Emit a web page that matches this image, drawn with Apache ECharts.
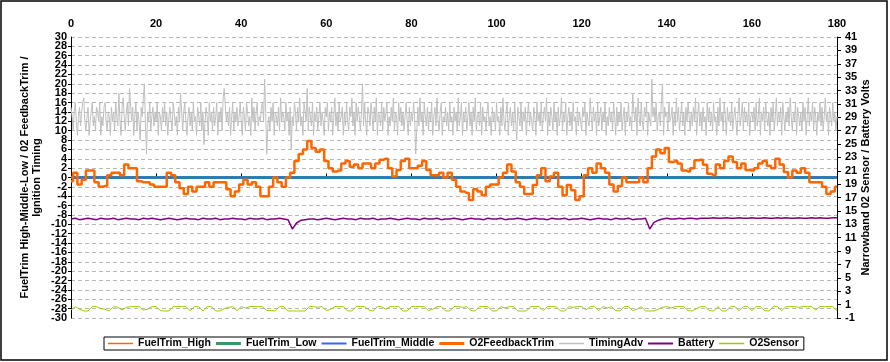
<!DOCTYPE html>
<html>
<head>
<meta charset="utf-8">
<script src="https://cdn.jsdelivr.net/npm/echarts@6/dist/echarts.min.js"></script>
<style>
html,body{margin:0;padding:0;background:#fff;}
#chart{width:890px;height:362px;}
</style>
</head>
<body>
<div id="chart"></div>
<script>
// ---- tick labels / axes ----
const xTicks = [0, 20, 40, 60, 80, 100, 120, 140, 160, 180];
const leftRange = [-30, 30];
const rightRange = [-1, 41];

// ---- series data ----
// FuelTrim High / Low / Middle: flat at 0 over the whole run (x 0 and 180)
const fuelTrimX = [0, 180];
const fuelTrimHigh = [0, 0];
const fuelTrimLow = [0, 0];
const fuelTrimMiddle = [0, 0];

// O2FeedbackTrim, one sample per time unit (x = 0..180)
const o2FeedbackTrim = [
-0.8,1,-1.5,-0.5,1.5,1.5,-1,-2,-1.8,0.5,
1,1,0.5,2.8,2,2,-0.8,-1,-1,-1.5,
-2,-2,-2,1,0.5,-1,-2.3,-3.5,-2,-3,
-2,-2,-1,-2,-1,-1,-1,-2.5,-4,-3,
-1.5,-0.5,-1.5,-1,-2,-4,-4,-2,0,-1,
-2,0,1,3.5,5,6,7.8,6.3,5.5,6,
3.5,2,1.3,1.5,3,3.5,2.3,2.8,2,3,
3,2,3,3.8,4,2,0.2,1.6,3.5,4,
2,2,2.5,3.5,1.6,0.5,0.5,1,0,1,
-0.5,-2,-3,-3.3,-4.8,-2.5,-3,-3.8,-2,-1.5,
-1.5,0,1,2.8,1.3,-1,-2,-3.5,-3.5,-1.6,
0.5,2,-0.8,0.2,1,-2,-3.8,-1.6,-2.7,-4.8,
-4,0.5,2,1,3,2,1,-1.5,-3,-1.8,
0,-1,-1,-1,0,-1,2,4.5,6,5.2,
6.3,3.3,3.5,3,1.5,1.3,2,3.7,3.8,2.7,
0.8,0.5,2.8,2,3.5,4.5,3.3,2,3,1.6,
1.5,2,3,3.5,2.5,2,4,2.8,1.2,0,
1.5,1,2,1,-1,-1,-1,-2,-3.5,-3,-2
];

// TimingAdv, four samples per time unit (x = 0, 0.25, ..., 180)
const timingAdv = [
15,13,10,14,16,12,9,13,15,11, 14,16,17,12,10,13,15,9,12,14, 16,11,13,10,15,14,12,16,9,13, 11,15,16,12,10,14,13,9,15,12,
14,10,16,13,11,18,12,9,15,17, 13,10,14,16,11,19,19,12,15,9, 13,16,10,14,12,8,15,13,17,20, 11,5,14,12,16,10,13,15,11,14,
12,16,9,14,13,10,15,12,16,11, 14,9,13,15,12,10,16,14,11,13, 9,15,12,18,18,10,14,16,12,9, 13,15,11,14,10,16,12,13,9,15,
13,11,16,10,14,7,12,15,13,9, 16,12,14,10,15,11,13,16,9,14, 12,15,10,17,19,19,12,14,11,15, 9,13,16,10,14,12,15,11,13,16,
12,9,15,13,10,16,14,11,13,9, 17,12,15,10,14,16,11,13,12,15, 16,12,21,14,5,11,13,10,15,12, 16,9,14,13,11,15,10,17,12,14,
13,10,16,12,14,9,15,6,13,11, 16,14,10,15,12,17,11,13,9,16, 14,12,19,10,15,13,11,16,9,14, 12,15,10,13,16,11,14,12,9,15,
13,16,10,14,12,15,9,13,17,11, 14,10,16,12,13,15,9,14,11,16, 12,10,15,13,17,11,14,9,16,12, 15,13,10,14,20,11,16,12,9,15,
14,11,16,13,10,15,12,17,9,14, 13,11,16,10,15,12,14,16,9,13, 11,15,12,17,10,14,13,9,16,12, 15,11,14,10,13,16,12,9,15,11,
14,12,16,13,5,10,15,11,17,12, 14,9,16,13,11,15,10,14,12,16, 9,13,15,11,17,12,10,14,16,9, 13,12,15,11,14,10,16,12,13,9,
15,12,14,10,17,11,13,16,9,14, 12,15,10,13,16,11,14,9,15,12, 17,10,13,14,11,16,9,15,12,13, 10,14,16,11,13,9,15,12,14,10,
16,12,13,9,15,11,17,12,10,14, 16,9,13,15,11,14,10,16,12,8, 15,13,11,16,10,14,12,15,9,13, 16,11,14,12,10,15,13,9,16,12,
14,11,16,10,13,15,12,17,9,14, 11,15,13,10,16,12,14,9,15,11, 13,17,10,14,12,16,9,13,15,11, 14,10,16,12,13,9,15,11,14,12,
10,15,13,16,9,14,12,11,17,13, 10,15,12,14,9,16,11,13,15,10, 14,12,16,9,13,11,15,12,14,10, 16,13,9,15,11,14,12,16,10,13,
15,9,14,12,16,11,13,10,18,14, 12,15,9,17,13,11,16,12,10,15, 13,16,9,14,12,11,21,13,15,12, 16,10,13,14,11,17,20,9,15,13,
14,10,16,12,13,15,9,14,11,17, 12,15,10,13,16,11,14,9,15,12, 16,13,10,14,11,15,12,17,9,13, 16,11,14,10,15,12,13,9,16,12,
15,11,14,10,16,12,13,9,15,11, 17,12,14,10,16,13,9,15,12,14, 11,16,10,13,15,12,9,14,17,11, 13,16,10,15,12,14,11,16,9,13,
14,12,15,10,16,11,13,17,9,14, 12,15,10,16,13,11,14,9,15,12, 16,10,13,17,11,14,12,15,9,16, 13,10,14,12,15,11,17,13,10,14,
12,16,9,15,13,11,14,10,16,12, 15,9,13,17,11,14,12,16,10,15, 13,9,14,12,16,11,15,10,13,17, 12,14,9,15,13,11,16,12,14,10, 13
];

// Battery volts, one sample per time unit (x = 0..180)
const battery = [
13.8,13.9,13.7,13.8,13.9,13.8,13.7,13.9,13.8,13.8,
13.9,13.7,13.8,13.9,13.8,13.8,13.7,13.9,13.8,13.9,
13.8,13.7,13.8,13.9,13.8,13.7,13.8,13.9,13.8,13.8,
13.7,13.9,13.8,13.8,13.9,13.7,13.8,13.8,13.9,13.8,
13.8,13.7,13.9,13.8,13.8,13.9,13.7,13.8,13.8,13.9,
13.8,13.7,12.3,13.2,13.6,13.7,13.8,13.8,13.7,13.8,
13.9,13.8,13.7,13.8,13.9,13.8,13.8,13.7,13.9,13.8,
13.8,13.9,13.7,13.8,13.8,13.9,13.8,13.7,13.8,13.9,
13.8,13.8,13.7,13.9,13.8,13.8,13.9,13.7,13.8,13.8,
13.9,13.8,13.7,13.8,13.9,13.8,13.8,13.7,13.9,13.8,
13.8,13.9,13.7,13.8,13.8,13.9,13.8,13.7,13.8,13.9,
13.8,13.8,13.7,13.9,13.8,13.8,13.9,13.7,13.8,13.8,
13.9,13.8,13.7,13.8,13.9,13.8,13.8,13.7,13.9,13.8,
13.8,13.9,13.7,13.8,13.8,13.9,12.3,13.3,13.6,13.8,
13.9,13.8,13.8,13.9,13.8,13.9,13.9,13.8,13.9,13.9,
13.9,14.0,13.9,13.9,14.0,13.9,13.9,14.0,13.9,13.9,
14.0,13.9,13.9,14.0,13.9,13.9,14.0,13.9,14.0,13.9,
13.9,14.0,13.9,13.9,14.0,13.9,14.0,13.9,13.9,14.0,14.0
];

// Narrowband O2 sensor volts, one sample per time unit (x = 0..180)
const o2Sensor = [
0.2,0.7,0.3,0.05,0.05,0.7,0.7,0.4,0.3,0.05,
0.7,0.6,0.2,0.6,0.7,0.7,0.7,0.2,0.3,0.7,
0.7,0.1,0.05,0.05,0.7,0.7,0.7,0.7,0.1,0.7,
0.7,0.05,0.7,0.7,0.05,0.05,0.4,0.6,0.7,0.1,
0.7,0.5,0.7,0.7,0.7,0.7,0.1,0.1,0.05,0.7,
0.7,0.05,0.05,0.05,0.05,0.05,0.7,0.7,0.6,0.7,
0.1,0.3,0.7,0.7,0.7,0.05,0.05,0.7,0.7,0.7,
0.2,0.05,0.7,0.7,0.3,0.7,0.7,0.7,0.05,0.05,
0.7,0.7,0.7,0.7,0.1,0.3,0.7,0.7,0.05,0.05,
0.7,0.7,0.6,0.7,0.1,0.05,0.7,0.7,0.7,0.05,
0.05,0.7,0.5,0.7,0.7,0.05,0.05,0.05,0.7,0.7,
0.7,0.1,0.7,0.7,0.7,0.05,0.05,0.7,0.6,0.7,
0.7,0.2,0.7,0.7,0.1,0.7,0.5,0.7,0.1,0.05,
0.7,0.7,0.1,0.3,0.7,0.05,0.05,0.05,0.3,0.6,
0.7,0.5,0.7,0.7,0.7,0.1,0.05,0.4,0.7,0.7,
0.1,0.05,0.7,0.05,0.05,0.7,0.7,0.1,0.7,0.7,
0.1,0.7,0.7,0.1,0.05,0.7,0.7,0.1,0.7,0.7,
0.7,0.6,0.7,0.7,0.7,0.2,0.7,0.7,0.7,0.7,0.1
];

// ---- build ----
const pairs = (xs, ys) => ys.map((v, i) => [xs[i], v]);
const perUnit = (ys, step) => ys.map((v, i) => [i * step, v]);
const lineIcon = (h) => 'path://M0,0H25V' + h + 'H0Z';

const FONT = 'Liberation Sans';
const lblStyle = { color: '#000', fontWeight: 'bold', fontSize: 11, fontFamily: FONT };

const chart = echarts.init(document.getElementById('chart'), null, { renderer: 'canvas' });
chart.setOption({
  animation: false,
  backgroundColor: '#fff',
  graphic: [{
    type: 'rect', silent: true, z: -1,
    shape: { x: 1, y: 1, width: 886, height: 359 },
    style: { fill: 'none', stroke: '#000', lineWidth: 1.5 }
  }],
  grid: { left: 71, right: 53, top: 37, bottom: 44, containLabel: false },
  legend: {
    left: 104, top: 337,
    padding: [1, 5, 1, 4],
    borderColor: '#000', borderWidth: 1,
    itemWidth: 25, itemHeight: 9, itemGap: 5,
    symbolKeepAspect: true,
    textStyle: Object.assign({}, lblStyle, { fontSize: 10.5 }),
    data: [
      { name: 'FuelTrim_High', icon: lineIcon(1.5) },
      { name: 'FuelTrim_Low', icon: lineIcon(3) },
      { name: 'FuelTrim_Middle', icon: lineIcon(2) },
      { name: 'O2FeedbackTrim', icon: lineIcon(3) },
      { name: 'TimingAdv', icon: lineIcon(1.5) },
      { name: 'Battery', icon: lineIcon(2) },
      { name: 'O2Sensor', icon: lineIcon(1.5) }
    ]
  },
  xAxis: {
    type: 'value', position: 'top', min: xTicks[0], max: xTicks[xTicks.length - 1], interval: 20,
    axisLine: { lineStyle: { color: '#000', width: 1 } },
    axisTick: { length: 4, lineStyle: { color: '#000' } },
    axisLabel: Object.assign({ margin: 8, showMinLabel: true, showMaxLabel: true }, lblStyle),
    splitLine: { show: false }
  },
  yAxis: [{
    type: 'value', position: 'left', min: leftRange[0], max: leftRange[1], interval: 2,
    name: 'FuelTrim High-Middle-Low / 02 FeedbackTrim /\nIgnition Timing',
    nameLocation: 'middle', nameRotate: 90, nameGap: 28, nameMoveOverlap: false,
    nameTextStyle: Object.assign({ lineHeight: 12, align: 'center' }, lblStyle),
    axisLine: { show: true, lineStyle: { color: '#000', width: 1 } },
    axisTick: { show: true, length: 3, lineStyle: { color: '#000' } },
    axisLabel: Object.assign({ margin: 4, showMinLabel: false, showMaxLabel: false, hideOverlap: false }, lblStyle),
    splitLine: { show: true, lineStyle: { color: '#b8b8b8', width: 1, type: [4, 3] } }
  }, {
    type: 'value', position: 'right', min: rightRange[0], max: rightRange[1], interval: 2,
    name: 'Narrowband 02 Sensor / Battery Volts',
    nameLocation: 'middle', nameRotate: 90, nameGap: 23, nameMoveOverlap: false,
    nameTextStyle: Object.assign({ align: 'center' }, lblStyle),
    axisLine: { show: true, lineStyle: { color: '#000', width: 1 } },
    axisTick: { show: true, length: 4, lineStyle: { color: '#000' } },
    axisLabel: Object.assign({ margin: 8, showMinLabel: true, showMaxLabel: true }, lblStyle),
    splitLine: { show: false }
  }, {
    // end labels (30 / -30) of the left axis
    type: 'value', position: 'left', offset: 0, min: leftRange[0], max: leftRange[1], interval: leftRange[1] - leftRange[0],
    axisLine: { show: false }, axisTick: { show: false }, splitLine: { show: false },
    axisLabel: Object.assign({ margin: 4, showMinLabel: true, showMaxLabel: true }, lblStyle)
  }],
  series: [
    { name: 'FuelTrim_High', type: 'line', yAxisIndex: 0, symbol: 'none', data: pairs(fuelTrimX, fuelTrimHigh),
      lineStyle: { color: '#FF6600', width: 1 }, itemStyle: { color: '#FF6600' } },
    { name: 'FuelTrim_Low', type: 'line', yAxisIndex: 0, symbol: 'none', data: pairs(fuelTrimX, fuelTrimLow),
      lineStyle: { color: '#339966', width: 3 }, itemStyle: { color: '#339966' } },
    { name: 'FuelTrim_Middle', type: 'line', yAxisIndex: 0, symbol: 'none', data: pairs(fuelTrimX, fuelTrimMiddle),
      lineStyle: { color: '#3366FF', width: 2 }, itemStyle: { color: '#3366FF' } },
    { name: 'O2FeedbackTrim', type: 'line', yAxisIndex: 0, symbol: 'none', step: 'middle', data: perUnit(o2FeedbackTrim, 1),
      lineStyle: { color: '#FF6600', width: 2.5 }, itemStyle: { color: '#FF6600' } },
    { name: 'TimingAdv', type: 'line', yAxisIndex: 0, symbol: 'none', data: perUnit(timingAdv, 0.25),
      lineStyle: { color: '#C0C0C0', width: 1 }, itemStyle: { color: '#C0C0C0' } },
    { name: 'Battery', type: 'line', yAxisIndex: 1, symbol: 'none', data: perUnit(battery, 1),
      lineStyle: { color: '#800080', width: 1.5 }, itemStyle: { color: '#800080' } },
    { name: 'O2Sensor', type: 'line', yAxisIndex: 1, symbol: 'none', data: perUnit(o2Sensor, 1),
      lineStyle: { color: '#99CC00', width: 1 }, itemStyle: { color: '#99CC00' } }
  ]
});
</script>
</body>
</html>
